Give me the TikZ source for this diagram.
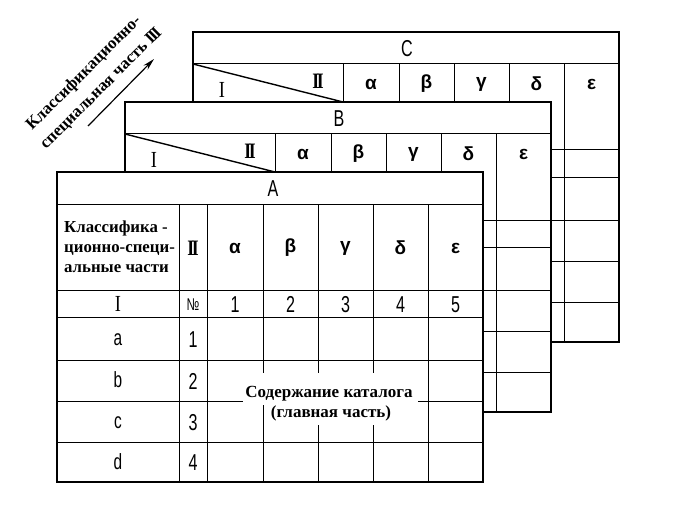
\documentclass[tikz,border=0pt]{standalone}
\usepackage{fontspec}
\setmainfont{Liberation Serif}
\newfontfamily\dinfont[FakeStretch=0.7]{Liberation Sans}
\newfontfamily\grfont{Liberation Sans}
\newfontfamily\romfont[FakeStretch=0.8]{Liberation Serif}
\usetikzlibrary{arrows.meta}
\tikzset{
  outerline/.style={line width=1.4pt},
  innerline/.style={line width=1pt},
  dintext/.style={font=\dinfont\fontsize{23}{23}\selectfont, inner sep=0pt},
  lettext/.style={font=\dinfont\fontsize{22}{22}\selectfont, inner sep=0pt},
  digtext/.style={font=\dinfont\fontsize{23}{23}\selectfont, inner sep=0pt, anchor=base},
  greektext/.style={font=\grfont\bfseries\fontsize{19}{19}\selectfont, inner sep=0pt},
  romtext/.style={font=\romfont\fontsize{23}{23}\selectfont, inner sep=0pt},
  romboldtext/.style={font=\romfont\bfseries\fontsize{22}{22}\selectfont, inner sep=0pt},
  rustext/.style={font=\bfseries\fontsize{16.8}{20}\selectfont, inner sep=0pt},
  maintext/.style={font=\bfseries\fontsize{17}{20}\selectfont, inner sep=0pt},
  sidetext/.style={font=\bfseries\fontsize{16.8}{16.8}\selectfont, inner sep=0pt, rotate=45, anchor=base west},
}
\begin{document}
\begin{tikzpicture}[x=1pt,y=-1pt]
\useasboundingbox (0,0) rectangle (700,505);
\fill[white] (0,0) rectangle (700,505);

% back tables C and B
\foreach \tn/\ox/\oy in {C/193/32, B/125/102}{
  \begin{scope}[shift={(\ox,\oy)}]
    \filldraw[fill=white, outerline] (0,0) rectangle (426,310);
    \draw[innerline] (0,32) -- (426,32);
    \foreach \yy in {118,145,188,229,270} \draw[innerline] (0,\yy) -- (426,\yy);
    \draw[innerline] (122,118) -- (122,310);
    \foreach \xx in {150,206,261,316,371} \draw[innerline] (\xx,32) -- (\xx,310);
    \draw[outerline] (0,32) -- (150,70);
    \node[dintext] (title\tn) at (214,17) {\tn};
    \node[romtext] (one\tn) at (29,58) {I};
    \node[romboldtext] (two\tn) at (125,49) {I\kern-2.5pt I};
    \node[greektext] (al\tn) at (178,52) {α};
    \node[greektext] (be\tn) at (233.5,52) {β};
    \node[greektext] (ga\tn) at (288.5,52) {γ};
    \node[greektext] (de\tn) at (343.5,52) {δ};
    \node[greektext] (ep\tn) at (398.5,52) {ε};
  \end{scope}
}

% front table A
\begin{scope}[shift={(57,172)}]
  \filldraw[fill=white, outerline] (0,0) rectangle (426,310);
  \draw[innerline] (0,32) -- (426,32);
  \foreach \yy in {118,145,188,229,270} \draw[innerline] (0,\yy) -- (426,\yy);
  \foreach \xx in {122,150,206,261,316,371} \draw[innerline] (\xx,32) -- (\xx,310);
  \fill[white] (186,201) rectangle (361,233);
  \fill[white] (211,233) rectangle (337,253);
  \node[dintext] (titleA) at (216,17) {A};
  \node[rustext, anchor=west, align=left] (partsA) at (7,75) {Классифика -\\ционно-специ-\\альные части};
  \node[romboldtext] (twoA) at (136,76) {I\kern-2.5pt I};
  \node[greektext] (alA) at (178,76) {α};
  \node[greektext] (beA) at (233.5,76) {β};
  \node[greektext] (gaA) at (288.5,76) {γ};
  \node[greektext] (deA) at (343.5,76) {δ};
  \node[greektext] (epA) at (398.5,76) {ε};
  \node[romtext] (oneA) at (61,132) {I};
  \node[font=\dinfont\fontsize{17}{17}\selectfont, inner sep=0pt, anchor=base] (numA) at (136,138) {№};
  \node[digtext] (d1) at (178,140) {1};
  \node[digtext] (d2) at (233.5,140) {2};
  \node[digtext] (d3) at (288.5,140) {3};
  \node[digtext] (d4) at (343.5,140) {4};
  \node[digtext] (d5) at (398.5,140) {5};
  \node[lettext, anchor=base] (ra) at (61,173) {a};
  \node[lettext, anchor=base] (rb) at (61,215) {b};
  \node[lettext, anchor=base] (rc) at (61,256) {c};
  \node[lettext, anchor=base] (rd) at (61,297) {d};
  \node[digtext] (n1) at (136,175) {1};
  \node[digtext] (n2) at (136,217) {2};
  \node[digtext] (n3) at (136,258) {3};
  \node[digtext] (n4) at (136,298) {4};
  \node[maintext] (mainA) at (272,222) {Содержание каталога};
  \node[maintext] (mainB) at (274,241) {(главная часть)};
\end{scope}

% rotated side label
\node[sidetext] (side1) at (32,131) {Классификационно-};
\node[sidetext] (side2) at (46,150) {специальная часть I\kern-2pt I\kern-2pt I};
\coordinate (arrS) at (88,126);
\coordinate (arrE) at (154,59);
\draw[line width=1.2pt, -{Stealth[length=12pt,width=6pt]}] (arrS) -- (arrE);
\end{tikzpicture}
\end{document}
